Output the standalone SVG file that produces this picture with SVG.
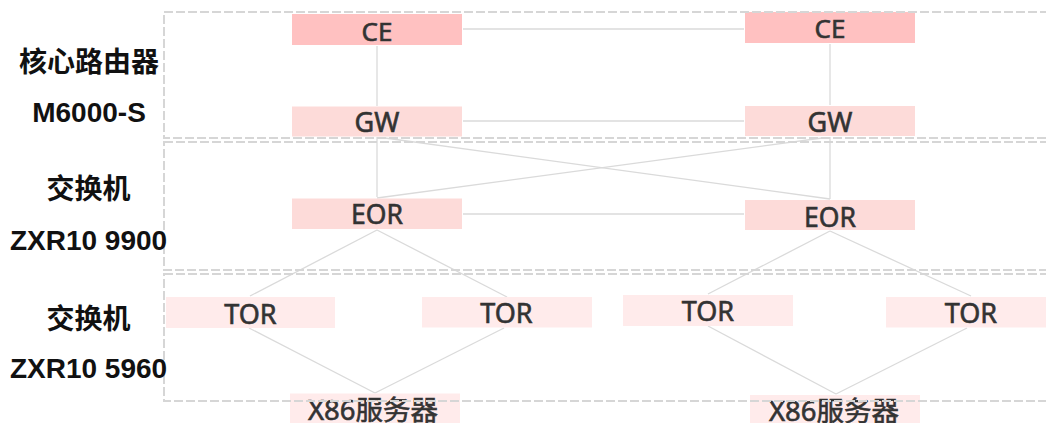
<svg xmlns="http://www.w3.org/2000/svg" width="1046" height="423" viewBox="0 0 1046 423">
  <style>
    .tier { fill: none; stroke: #d6d6d6; stroke-width: 2; stroke-dasharray: 9 3; }
    .link { stroke: #dadada; stroke-width: 1.3; fill: none; }
    .core { fill: #ffc1c1; }
    .agg { fill: #fddbd9; }
    .edge { fill: #ffebeb; }
    .lbl { font-family: "Noto Sans", "Noto Sans CJK SC", sans-serif; fill: #333333; stroke: #333333; stroke-width: 0.6; text-anchor: middle; }
    .side { font-family: "Liberation Sans", "Noto Sans CJK SC", sans-serif; font-weight: bold; fill: #111111; text-anchor: middle; font-size: 28px; }
  </style>

  <!-- white page -->
  <rect x="0" y="0" width="1046" height="423" fill="#ffffff"/>

  <!-- connectors -->
  <g id="connectors">
    <line class="link" x1="463" y1="29" x2="744" y2="29"/>
    <line class="link" x1="377" y1="46" x2="377" y2="106"/>
    <line class="link" x1="830" y1="44" x2="830" y2="105"/>
    <line class="link" x1="463" y1="121" x2="744" y2="121"/>
    <line class="link" x1="377" y1="137" x2="377" y2="197"/>
    <line class="link" x1="830" y1="137" x2="830" y2="199"/>
    <line class="link" x1="385" y1="138" x2="830" y2="199"/>
    <line class="link" x1="822" y1="138" x2="377" y2="198"/>
    <line class="link" x1="463" y1="214" x2="744" y2="214"/>
    <line class="link" x1="377" y1="230" x2="250" y2="296"/>
    <line class="link" x1="377" y1="230" x2="507" y2="297"/>
    <line class="link" x1="830" y1="231" x2="708" y2="294"/>
    <line class="link" x1="830" y1="231" x2="971" y2="296"/>
    <line class="link" x1="249" y1="328" x2="375" y2="393"/>
    <line class="link" x1="504" y1="328" x2="375" y2="393"/>
    <line class="link" x1="708" y1="326" x2="836" y2="394"/>
    <line class="link" x1="967" y1="328" x2="836" y2="394"/>
  </g>

  <!-- core tier -->
  <g id="ce-left">
    <rect class="core" x="292" y="14" width="170" height="31"/>
    <text class="lbl" x="377" y="40.5" font-size="26">CE</text>
  </g>
  <g id="ce-right">
    <rect class="core" x="745" y="12" width="170" height="31"/>
    <text class="lbl" x="830" y="38" font-size="26">CE</text>
  </g>
  <g id="gw-left">
    <rect class="agg" x="292" y="106.5" width="170" height="30"/>
    <text class="lbl" x="377" y="132" font-size="27">GW</text>
  </g>
  <g id="gw-right">
    <rect class="agg" x="745" y="106" width="170" height="30"/>
    <text class="lbl" x="830" y="132" font-size="27">GW</text>
  </g>

  <!-- aggregation tier -->
  <g id="eor-left">
    <rect class="agg" x="292" y="198.5" width="170" height="30.5"/>
    <text class="lbl" x="377" y="224" font-size="26.5">EOR</text>
  </g>
  <g id="eor-right">
    <rect class="agg" x="745" y="200" width="170" height="30"/>
    <text class="lbl" x="830" y="226.5" font-size="26.5">EOR</text>
  </g>

  <!-- access tier -->
  <g id="tor-1">
    <rect class="edge" x="166" y="297" width="169" height="31"/>
    <text class="lbl" x="250.5" y="323.5" font-size="27">TOR</text>
  </g>
  <g id="tor-2">
    <rect class="edge" x="422" y="297" width="170" height="30.5"/>
    <text class="lbl" x="506.5" y="323" font-size="27">TOR</text>
  </g>
  <g id="tor-3">
    <rect class="edge" x="623" y="295" width="170" height="31"/>
    <text class="lbl" x="708" y="321" font-size="27">TOR</text>
  </g>
  <g id="tor-4">
    <rect class="edge" x="886" y="297" width="170" height="30.5"/>
    <text class="lbl" x="971" y="323" font-size="27">TOR</text>
  </g>

  <!-- servers -->
  <g id="server-left">
    <rect class="edge" x="290" y="393.5" width="170" height="31"/>
    <text class="lbl" x="373" y="420" font-size="27.5">X86服务器</text>
  </g>
  <g id="server-right">
    <rect class="edge" x="750" y="395" width="170" height="31"/>
    <text class="lbl" x="834" y="420.5" font-size="27.5">X86服务器</text>
  </g>

  <!-- tier frames -->
  <g id="tiers">
    <rect class="tier" x="164" y="12" width="900" height="126"/>
    <rect class="tier" x="164" y="142" width="900" height="128"/>
    <rect class="tier" x="164" y="274" width="900" height="127"/>
  </g>

  <!-- tier captions -->
  <g id="captions">
    <text class="side" x="89" y="72">核心路由器</text>
    <text class="side" x="89" y="122">M6000-S</text>
    <text class="side" x="88.5" y="199">交换机</text>
    <text class="side" x="88.5" y="249.5">ZXR10 9900</text>
    <text class="side" x="88.5" y="329">交换机</text>
    <text class="side" x="88.5" y="377.5">ZXR10 5960</text>
  </g>
</svg>
